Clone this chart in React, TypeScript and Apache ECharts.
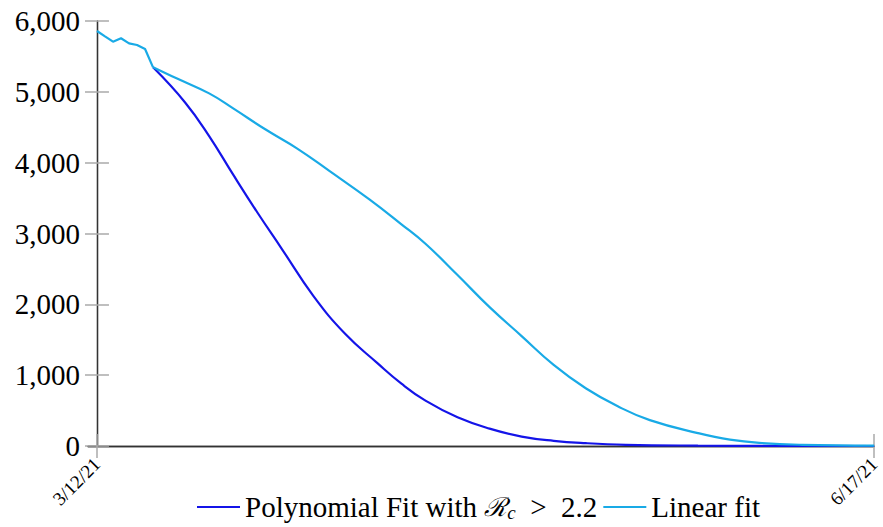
import React, { useEffect, useRef } from "react";
import * as echarts from "echarts";

const startDate = "3/12/21";
const endDate = "6/17/21";
const xTickDays = [0, 97];
const xTickLabels = [startDate, endDate];
const yTicks = [0, 1000, 2000, 3000, 4000, 5000, 6000];

// observed data (days since 3/12/21)
const observedDays = [0, 1, 2, 3, 4, 5, 6, 7];
const observedValues = [5859, 5783, 5708, 5756, 5685, 5661, 5605, 5346];

// polynomial fit (Rc > 2.2)
const polyDays = [7, 11, 14, 17, 20, 23, 27, 31, 35, 38, 41, 45, 49, 53, 57, 61, 66, 75, 85, 97];
const polyValues = [5346, 4850, 4375, 3830, 3300, 2795, 2120, 1580, 1170, 880, 640, 405, 245, 133, 73, 40, 17, 5, 1, 0];

// linear fit
const linDays = [7, 10, 14, 17, 21, 25, 29, 34, 38, 41, 45, 49, 53, 57, 61, 65, 69, 75, 79, 83, 88, 97];
const linValues = [5346, 5188, 4978, 4766, 4471, 4199, 3884, 3482, 3130, 2855, 2414, 1960, 1552, 1145, 815, 560, 365, 182, 90, 42, 17, 4];

const polyName = "Polynomial Fit with ℛc > 2.2";
const linName = "Linear fit";

const BLUE = "#1414e8";
const CYAN = "#19aae6";
const SERIF = "Liberation Serif";

const zip = (xs: number[], ys: number[]) => xs.map((x, i) => [x, ys[i]]);

export default function App() {
  const ref = useRef<HTMLDivElement>(null);
  useEffect(() => {
    if (!ref.current) return;
    const chart = echarts.init(ref.current, null, { renderer: "svg" });
    const axisLine = { show: true, lineStyle: { color: "#333", width: 1.3 } };
    const tick = { show: true, inside: true, length: 12, lineStyle: { color: "#aaa", width: 1.5 } };
    chart.setOption({
      animation: false,
      backgroundColor: "#fff",
      grid: { left: 88, right: 7, top: 21, bottom: 81, containLabel: false },
      xAxis: [
        {
          type: "value",
          min: -1.12,
          max: 97,
          position: "bottom",
          axisLine,
          axisTick: { ...tick, customValues: xTickDays },
          splitLine: { show: false },
          axisLabel: {
            customValues: xTickDays,
            rotate: 45,
            margin: 15,
            fontFamily: SERIF,
            fontSize: 19,
            color: "#000",
            formatter: (v: number) => {
              const i = xTickDays.indexOf(Math.round(v));
              return i >= 0 ? xTickLabels[i] : "";
            },
          },
        },
        {
          type: "value",
          min: -1.12,
          max: 97,
          position: "top",
          axisLine,
          axisTick: { ...tick, customValues: xTickDays },
          axisLabel: { show: false },
          splitLine: { show: false },
        },
      ],
      yAxis: [
        {
          type: "value",
          min: 0,
          max: 6000,
          interval: 1000,
          position: "left",
          axisLine,
          axisTick: tick,
          splitLine: { show: false },
          axisLabel: {
            margin: 8,
            fontFamily: SERIF,
            fontSize: 29,
            color: "#000",
            formatter: (v: number) => (yTicks.includes(v) ? v.toLocaleString("en-US") : ""),
          },
        },
        {
          type: "value",
          min: 0,
          max: 6000,
          interval: 1000,
          position: "right",
          axisLine,
          axisTick: tick,
          splitLine: { show: false },
          axisLabel: { show: false },
        },
      ],
      legend: {
        data: [polyName, linName],
        left: 197,
        top: 490,
        padding: 0,
        icon: "rect",
        itemWidth: 43,
        itemHeight: 2,
        itemGap: 6,
        formatter: (n: string) =>
          n === polyName ? "Polynomial Fit with {r|ℛ}{s|c}  >  2.2" : n,
        textStyle: {
          fontFamily: SERIF,
          fontSize: 29,
          lineHeight: 34,
          color: "#000",
          rich: {
            r: { fontFamily: "DejaVu Serif", fontSize: 26, fontStyle: "italic", color: "#000", lineHeight: 34 },
            s: { fontFamily: SERIF, fontSize: 19, fontStyle: "italic", color: "#000", lineHeight: 34, padding: [10, 0, 0, 0] },
          },
        },
      },
      series: [
        {
          name: polyName,
          type: "line",
          data: zip(polyDays, polyValues),
          smooth: 0.45,
          symbol: "none",
          lineStyle: { color: BLUE, width: 2.2 },
          itemStyle: { color: BLUE },
          z: 2,
        },
        {
          name: linName,
          type: "line",
          data: zip(linDays, linValues),
          smooth: 0.45,
          symbol: "none",
          lineStyle: { color: CYAN, width: 2.2 },
          itemStyle: { color: CYAN },
          z: 3,
        },
        {
          name: "observed",
          type: "line",
          data: zip(observedDays, observedValues),
          symbol: "none",
          lineStyle: { color: CYAN, width: 2.2 },
          itemStyle: { color: CYAN },
          z: 4,
        },
      ],
    });
    return () => chart.dispose();
  }, []);
  return (
    <div
      ref={ref}
      style={{ position: "fixed", left: 0, top: 0, width: 883, height: 527, background: "#fff" }}
    />
  );
}
